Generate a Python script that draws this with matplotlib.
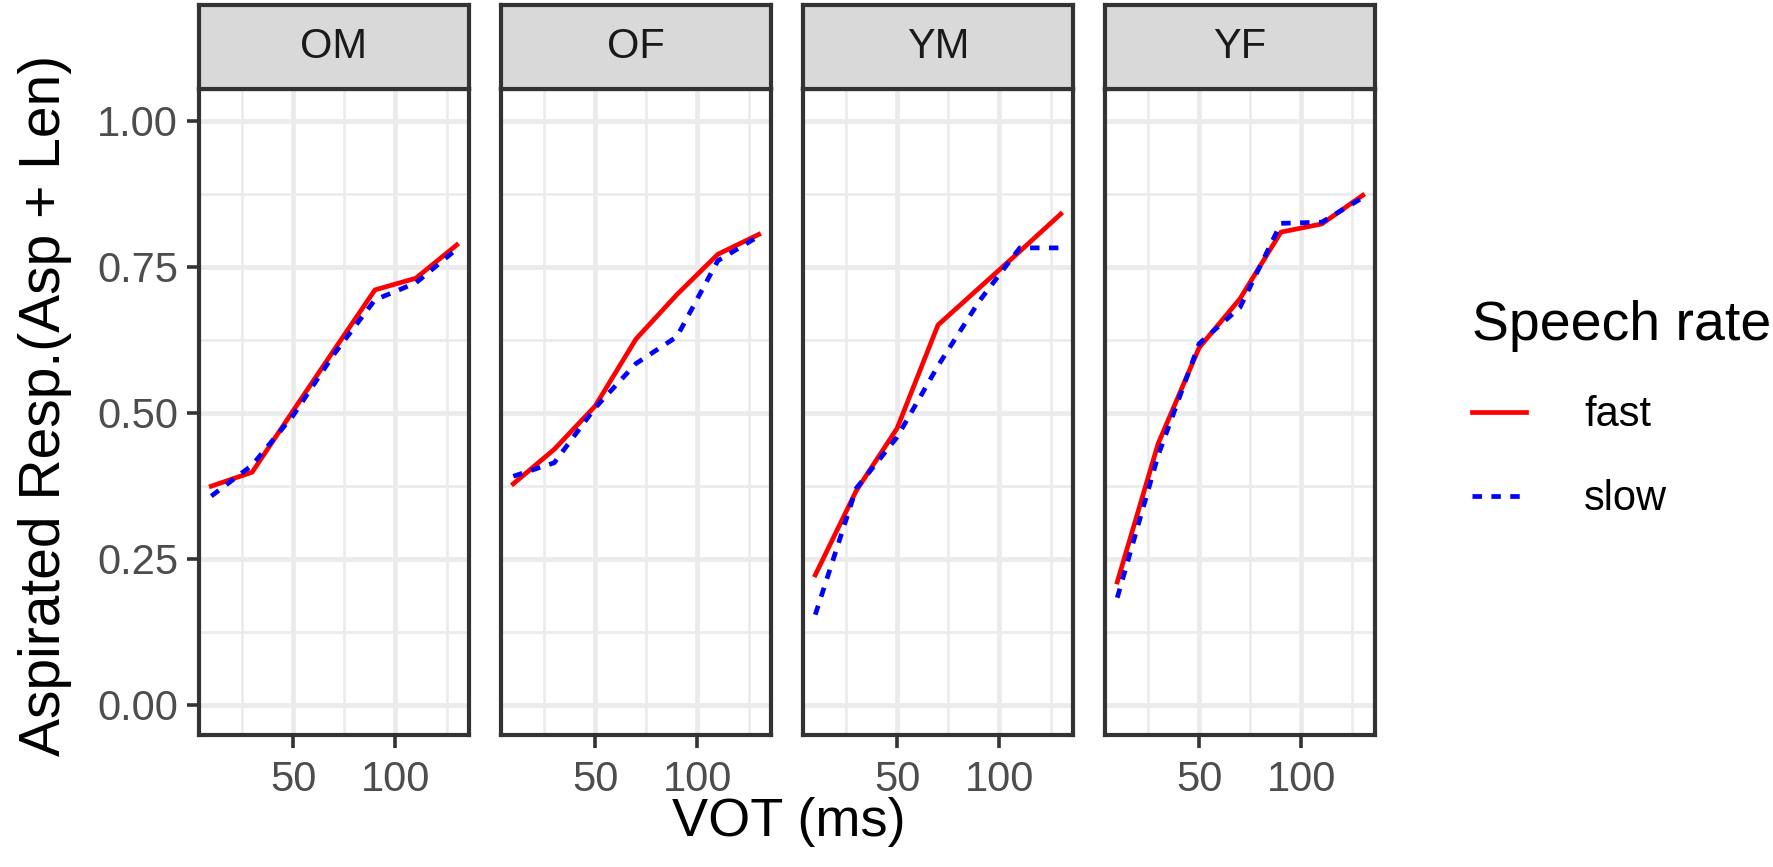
import matplotlib.pyplot as plt
from matplotlib.lines import Line2D

plt.rcParams['font.family'] = ['Liberation Sans', 'DejaVu Sans']

# data
vot = [10, 30, 50, 70, 90, 110, 130]
panels = ["OM", "OF", "YM", "YF"]

fast_om = [0.374, 0.398, 0.503, 0.607, 0.710, 0.730, 0.787]
slow_om = [0.357, 0.410, 0.495, 0.600, 0.693, 0.722, 0.780]
fast_of = [0.378, 0.437, 0.511, 0.626, 0.702, 0.771, 0.805]
slow_of = [0.391, 0.414, 0.508, 0.584, 0.630, 0.760, 0.802]
fast_ym = [0.222, 0.366, 0.473, 0.650, 0.713, 0.776, 0.840]
slow_ym = [0.154, 0.370, 0.458, 0.580, 0.690, 0.782, 0.782]
fast_yf = [0.210, 0.447, 0.611, 0.695, 0.809, 0.823, 0.872]
slow_yf = [0.183, 0.427, 0.618, 0.680, 0.824, 0.826, 0.868]

fast = [fast_om, fast_of, fast_ym, fast_yf]
slow = [slow_om, slow_of, slow_ym, slow_yf]

W, H = 1773, 867
fig = plt.figure(figsize=(W / 100, H / 100), dpi=100)

left0 = 199 / W
pw = 270 / W
step = 302 / W
bottom = (H - 735) / H
ph = (735 - 89) / H
strip_h = 84 / H

dark = '#333333'
grid = '#EBEBEB'
lw = 3.4
dash = (2.0, 2.0)

for i, name in enumerate(panels):
    x0 = left0 + i * step
    ax = fig.add_axes([x0, bottom, pw, ph])
    ax.plot(vot, fast[i], color='red', lw=lw, zorder=3)
    ax.plot(vot, slow[i], color='blue', lw=lw, dashes=dash, zorder=3)
    ax.set_xlim(4, 136)
    ax.set_ylim(-0.052, 1.054)
    ax.set_xticks([50, 100])
    ax.set_xticks([25, 75, 125], minor=True)
    ax.set_yticks([0, 0.25, 0.5, 0.75, 1.0])
    ax.set_yticklabels(["0.00", "0.25", "0.50", "0.75", "1.00"])
    ax.set_yticks([0.125, 0.375, 0.625, 0.875], minor=True)
    ax.grid(which='major', color=grid, lw=3.4)
    ax.grid(which='minor', color=grid, lw=1.9)
    ax.set_axisbelow(True)
    ax.tick_params(which='minor', length=0)
    ax.tick_params(which='major', length=9, width=2.6, color=dark,
                   labelsize=30, labelcolor='#4D4D4D')
    ax.tick_params(axis='x', pad=9)
    ax.tick_params(axis='y', pad=6)
    for s in ax.spines.values():
        s.set_color(dark)
        s.set_linewidth(3.0)
    if i > 0:
        ax.tick_params(axis='y', left=False, labelleft=False)

    sax = fig.add_axes([x0, 1 - 89 / H, pw, strip_h])
    sax.set_facecolor('#D9D9D9')
    sax.set_xticks([])
    sax.set_yticks([])
    for s in sax.spines.values():
        s.set_color(dark)
        s.set_linewidth(3.0)
    sax.text(0.5, 0.5, name, ha='center', va='center', fontsize=30,
             color='#1A1A1A', transform=sax.transAxes)

fig.text(45 / W, 1 - 405 / H, "Aspirated Resp.(Asp + Len)", rotation=90,
         ha='center', va='center', fontsize=41)
fig.text(789 / W, 1 - 822 / H, "VOT (ms)", ha='center', va='center', fontsize=39)

handles = [Line2D([], [], color='red', lw=lw),
           Line2D([], [], color='blue', lw=lw, dashes=dash)]
leg = fig.legend(handles, ['fast', 'slow'], title='Speech rate',
                 loc='upper left', bbox_to_anchor=(1455 / W, 1 - 283 / H),
                 frameon=False, fontsize=30, title_fontsize=40,
                 handlelength=1.3, handletextpad=1.4, labelspacing=1.05,
                 alignment='left', borderaxespad=0)

fig.savefig('out.png', dpi=100)
